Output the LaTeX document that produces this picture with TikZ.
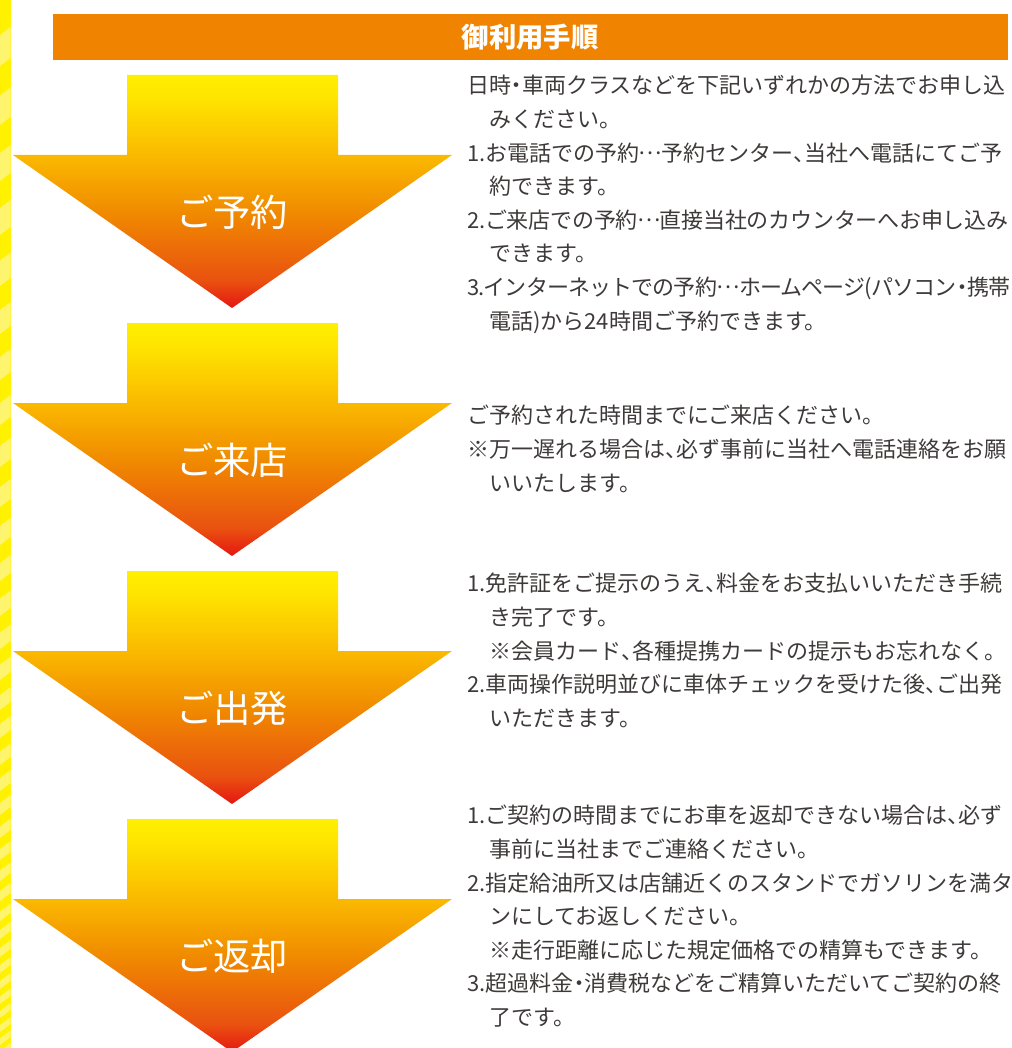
\documentclass[tikz,border=0pt]{standalone}
\usepackage{fontspec}
\setmainfont{Noto Sans CJK JP}
\usepackage{xcolor}

\definecolor{barorange}{RGB}{240,131,0}
\definecolor{inkgray}{RGB}{62,58,57}
\definecolor{stripeyellow}{RGB}{255,241,0}
\definecolor{stripelight}{RGB}{255,244,110}
\definecolor{arrowred}{RGB}{230,22,18}
\definecolor{arroworangered}{RGB}{233,82,16}
\definecolor{arroworange}{RGB}{240,136,0}
\definecolor{arrowamber}{RGB}{250,186,0}
\definecolor{arrowdeepyellow}{RGB}{255,228,0}
\definecolor{arrowyellow}{RGB}{255,240,0}

\pgfdeclareverticalshading{stepfade}{100bp}{color(0bp)=(arrowred); color(25bp)=(arrowred); color(31bp)=(arroworangered); color(45bp)=(arroworange); color(58bp)=(arrowamber); color(70bp)=(arrowdeepyellow); color(75bp)=(arrowyellow); color(100bp)=(arrowyellow)}

\newcommand{\tenn}{\makebox[0.5em][l]{、}}
\newcommand{\naka}{\makebox[0.5em][c]{・}}
\newcommand{\cont}{\hspace*{1em}}
\newcommand{\santen}{\makebox[1em][c]{\raisebox{0.3em}{…}}}

\tikzset{
  flowarrow/.style={shading=stepfade},
  steplabel/.style={text=white, inner sep=0pt, font=\fontsize{28}{32}\selectfont},
  headtext/.style={text=white, inner sep=0pt, font=\fontsize{20.5}{24}\selectfont\bfseries},
  bodytext/.style={text=inkgray, inner sep=0pt, anchor=north west, align=left,
    font=\fontsize{16.5}{25.2}\selectfont}
}

\begin{document}
\begin{tikzpicture}[x=0.75pt,y=-0.75pt]
\useasboundingbox (0,0) rectangle (1012,1048);
\clip (0,0) rectangle (1012,1048);

% side stripe
\fill[stripeyellow] (0,0) rectangle (10.5,1048);
\begin{scope}
\clip (0,0) rectangle (10.5,1048);
\foreach \y/\p in {0/62,62/59,121/56,177/54,231/51,282/48,330/46,377/44,421/42,463/40,503/38,541/36,577/35,612/33,645/31,676/30,706/28,734/27,761/26,787/24,811/23,834/22,856/21,877/20,898/19,917/18,935/18,953/16,969/16,985/15,1000/14,1014/14,1028/13,1041/12}
  \fill[stripelight] (0,\y+0.5*\p+4) -- (10.5,\y+0.5*\p-4) -- (10.5,\y+\p-4) -- (0,\y+\p+4) -- cycle;
\end{scope}

% header
\fill[barorange] (53,14) rectangle (1008,60);
\node[headtext] (title) at (530,37) {御利用手順};

% arrows
\foreach \i/\lbl in {0/ご予約,1/ご来店,2/ご出発,3/ご返却}{
\begin{scope}[shift={(0,248*\i)}]
\shade[flowarrow] (127,75) -- (338,75) -- (338,155) -- (452,155) -- (232,308) -- (13,155) -- (127,155) -- cycle;
\node[steplabel] (step\i) at (232,212) {\lbl};
\end{scope}
}

% texts
\node[bodytext] (yoyakutxt) at (467,75) {%
日時\naka 車両クラスなどを下記いずれかの方法でお申し込\\
\cont みください。\\
1.お電話での予約\santen 予約センター\tenn 当社へ電話にてご予\\
\cont 約できます。\\
{\addfontfeatures{LetterSpace=-1}2.ご来店での予約\santen 直接当社のカウンターへお申し込み}\\
\cont できます。\\
{\addfontfeatures{LetterSpace=-4}3.インターネットでの予約\santen ホームページ(パソコン\naka 携帯}\\
\cont 電話)から24時間ご予約できます。};

\node[bodytext] (raitentxt) at (467,405) {%
ご予約された時間までにご来店ください。\\
※万一遅れる場合は\tenn 必ず事前に当社へ電話連絡をお願\\
\cont いいたします。};

\node[bodytext] (shuppatsutxt) at (467,573) {%
1.免許証をご提示のうえ\tenn 料金をお支払いいただき手続\\
\cont き完了です。\\
\cont ※会員カード\tenn 各種提携カードの提示もお忘れなく。\\
2.車両操作説明並びに車体チェックを受けた後\tenn ご出発\\
\cont いただきます。};

\node[bodytext] (henkyakutxt) at (467,805) {%
1.ご契約の時間までにお車を返却できない場合は\tenn 必ず\\
\cont 事前に当社までご連絡ください。\\
2.指定給油所又は店舗近くのスタンドでガソリンを満タ\\
\cont ンにしてお返しください。\\
\cont ※走行距離に応じた規定価格での精算もできます。\\
3.超過料金\naka 消費税などをご精算いただいてご契約の終\\
\cont 了です。};

\end{tikzpicture}
\end{document}
